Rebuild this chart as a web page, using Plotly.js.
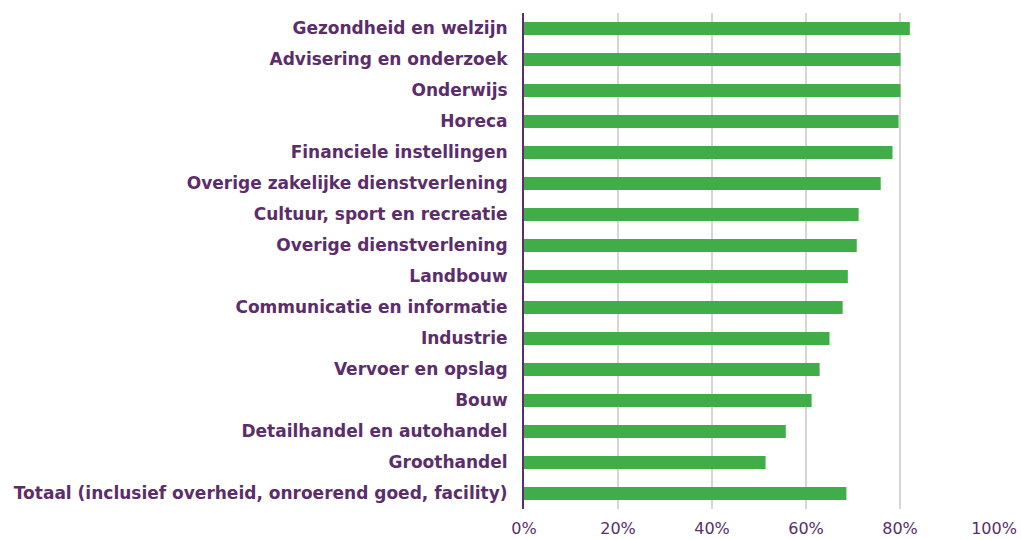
<!DOCTYPE html>
<html>
<head>
<meta charset="utf-8">
<script src="https://cdn.plot.ly/plotly-3.0.1.min.js"></script>
<style>html,body{margin:0;padding:0;background:#fff;}#chart{width:1021px;height:540px;}</style>
</head>
<body>
<div id="chart"></div>
<script>
const categories = [
  "Gezondheid en welzijn",
  "Advisering en onderzoek",
  "Onderwijs",
  "Horeca",
  "Financiele instellingen",
  "Overige zakelijke dienstverlening",
  "Cultuur, sport en recreatie",
  "Overige dienstverlening",
  "Landbouw",
  "Communicatie en informatie",
  "Industrie",
  "Vervoer en opslag",
  "Bouw",
  "Detailhandel en autohandel",
  "Groothandel",
  "Totaal (inclusief overheid, onroerend goed, facility)"
];
const values = [82.1, 80.1, 80.1, 79.7, 78.4, 75.9, 71.2, 70.8, 68.9, 67.8, 65.0, 62.9, 61.2, 55.7, 51.4, 68.6];
const tickVals = [0, 20, 40, 60, 80, 100];
const tickText = ["0%", "20%", "40%", "60%", "80%", "100%"];

const purple = "#5b2d6b";
const trace = {
  type: "bar",
  orientation: "h",
  x: values,
  y: categories,
  marker: {color: "#41ad49"},
  hoverinfo: "x+y"
};
const layout = {
  width: 1021,
  height: 540,
  margin: {l: 524, r: 27, t: 13, b: 31},
  paper_bgcolor: "#fff",
  plot_bgcolor: "#fff",
  showlegend: false,
  bargap: 0.58,
  font: {family: "DejaVu Sans, Verdana, sans-serif", color: purple},
  xaxis: {
    range: [0, 100],
    tickvals: tickVals,
    ticktext: tickText,
    showgrid: true,
    gridcolor: "#d6d6d6",
    gridwidth: 1.5,
    zeroline: false,
    showline: false,
    ticks: "",
    ticklabelstandoff: 8,
    tickfont: {size: 16, color: purple, family: "DejaVu Sans, Verdana, sans-serif"},
    fixedrange: true
  },
  yaxis: {
    autorange: "reversed",
    showline: true,
    linecolor: purple,
    linewidth: 2,
    showgrid: false,
    ticks: "",
    ticklabelstandoff: 11,
    tickfont: {size: 17, color: purple, family: "DejaVu Sans, Verdana, sans-serif", weight: "bold"},
    fixedrange: true
  }
};
Plotly.newPlot("chart", [trace], layout, {displayModeBar: false, staticPlot: true});
</script>
</body>
</html>
